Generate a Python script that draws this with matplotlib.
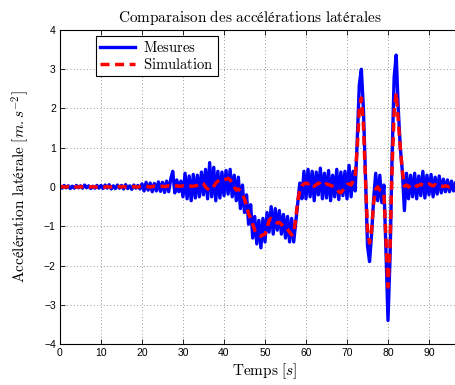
import matplotlib
matplotlib.use("Agg")
import matplotlib.pyplot as plt
import numpy as np

plt.rcParams.update(
    {
        "mathtext.fontset": "cm",
        "font.family": "Liberation Sans",
        "xtick.labelsize": 7.5,
        "ytick.labelsize": 7.5,
    }
)

# time axis, one sample every 0.5 s
temps = np.arange(0, 97.5, 0.5)

mesures = [
    0.03, -0.03, 0.04, -0.02, 0.03, -0.04, 0.02, -0.03, 0.04, -0.02,
    0.03, -0.03, 0.05, -0.02, 0.03, -0.04, 0.02, -0.03, 0.04, -0.03,
    0.04, -0.04, 0.05, -0.03, 0.06, -0.05, 0.03, -0.04, 0.05, -0.03,
    0.04, -0.05, 0.06, -0.04, 0.03, -0.06, 0.05, -0.03, 0.04, -0.05,
    0.08, -0.10, 0.12, -0.08, 0.10, -0.12, 0.09, -0.10, 0.13, -0.11,
    0.12, -0.14, 0.15, -0.12, 0.20, 0.40, -0.15, 0.18, -0.12, 0.15,
    -0.25, 0.35, -0.30, 0.28, -0.35, 0.32, -0.28, 0.30, -0.25, 0.38,
    -0.20, 0.45, -0.30, 0.62, -0.25, 0.50, -0.35, 0.40, -0.28, 0.38,
    -0.22, 0.42, -0.18, 0.45, -0.25, 0.30, -0.35, 0.25, -0.55, 0.05,
    -0.65, -0.20, -0.95, -0.45, -1.30, -0.75, -1.45, -0.85, -1.55, -0.80,
    -1.40, -0.65, -1.15, -0.50, -1.20, -0.55, -1.10, -0.60, -1.20, -0.70,
    -1.30, -0.75, -1.40, -0.80, -1.40, -0.90, -0.40, 0.10, -0.30, 0.40,
    -0.30, 0.45, -0.25, 0.40, -0.35, 0.38, -0.20, 0.48, -0.30, 0.35,
    -0.28, 0.42, -0.35, 0.30, -0.25, 0.45, -0.32, 0.38, -0.22, 0.40,
    -0.30, 0.55, -0.25, 0.40, -0.10, 1.20, 2.60, 3.00, 2.00, 0.30,
    -1.50, -1.90, -1.20, -0.30, 0.35, -0.35, 0.30, -0.40, 0.05, -1.60,
    -3.40, -1.80, 0.80, 2.80, 3.36, 2.00, 1.00, 0.40, -0.60, 0.35,
    -0.30, 0.30, -0.25, 0.35, -0.30, 0.28, -0.22, 0.40, -0.28, 0.30,
    -0.20, 0.32, -0.25, 0.25, -0.18, 0.28, -0.15, 0.20, -0.12, 0.18,
    -0.12, 0.15, -0.10, 0.12, -0.08,
]

# simulated lateral acceleration (m/s^2)
simulation = [
    0.00, 0.01, 0.00, 0.00, 0.01, 0.00, 0.00, 0.01, 0.00, 0.00,
    0.01, 0.00, 0.00, 0.01, 0.00, 0.00, 0.01, 0.00, 0.00, 0.01,
    0.01, 0.00, 0.00, 0.01, 0.00, 0.00, 0.01, 0.00, 0.00, 0.01,
    0.00, 0.01, 0.00, 0.00, 0.01, 0.00, 0.01, 0.00, 0.00, 0.01,
    0.01, 0.00, 0.02, 0.01, 0.00, 0.01, 0.02, 0.00, 0.01, 0.02,
    0.02, 0.01, 0.02, 0.03, 0.02, 0.01, 0.02, 0.03, 0.02, 0.02,
    0.03, 0.02, 0.02, 0.03, 0.02, 0.02, 0.03, 0.04, 0.05, 0.10,
    0.08, 0.00, -0.05, -0.08, -0.05, 0.02, 0.10, 0.15, 0.18, 0.20,
    0.18, 0.20, 0.22, 0.18, 0.10, 0.00, -0.08, -0.05, -0.10, -0.20,
    -0.30, -0.50, -0.68, -0.80, -0.95, -1.10, -1.18, -1.22, -1.25, -1.22,
    -1.20, -1.05, -0.85, -0.80, -0.85, -0.88, -0.92, -0.90, -0.95, -1.00,
    -1.02, -1.08, -1.15, -1.22, -1.20, -0.80, -0.35, -0.08, 0.03, 0.08,
    0.10, 0.08, 0.12, 0.05, 0.02, 0.06, 0.10, 0.08, 0.03, 0.05,
    0.08, 0.06, 0.04, 0.02, 0.00, -0.05, -0.12, -0.15, -0.08, 0.00,
    0.06, 0.08, 0.05, 0.15, 0.30, 1.00, 2.00, 2.27, 1.60, 0.20,
    -1.10, -1.43, -1.10, -0.40, -0.05, 0.00, -0.08, -0.10, -0.20, -1.30,
    -2.55, -1.50, 0.50, 1.90, 2.40, 1.70, 1.00, 0.40, 0.02, 0.05,
    0.00, 0.05, 0.03, 0.06, 0.02, 0.04, 0.07, 0.05, 0.03, 0.06,
    0.08, 0.05, 0.03, 0.06, 0.02, 0.04, 0.03, 0.01, 0.03, 0.02,
    0.00, 0.02, 0.01, 0.02, 0.00,
]

x_ticks = [0, 10, 20, 30, 40, 50, 60, 70, 80, 90]
y_ticks = [-4, -3, -2, -1, 0, 1, 2, 3, 4]

fig = plt.figure(figsize=(4.56, 3.85), dpi=100)
# axes run past the right edge, as in the cropped original
ax = fig.add_axes([60 / 456, 41 / 385, 410 / 456, 314 / 385])

ax.plot(temps, mesures, color="#0000ff", linewidth=2.4, label=r"$\mathrm{Mesures}$")
ax.plot(
    temps,
    simulation,
    color="#ff0000",
    linewidth=2.5,
    linestyle=(0, (2.6, 1.6)),
    label=r"$\mathrm{Simulation}$",
)

ax.set_xlim(0, 100)
ax.set_ylim(-4, 4)
ax.set_xticks(x_ticks)
ax.set_yticks(y_ticks)
ax.set_yticklabels(["\u22124", "\u22123", "\u22122", "\u22121", "0", "1", "2", "3", "4"])
ax.tick_params(direction="in", top=True, right=True, length=3.5, width=0.6, pad=3)
ax.grid(True, linestyle=(0, (1, 3)), color="0.45", linewidth=0.6)
for spine in ax.spines.values():
    spine.set_linewidth(0.8)

ax.set_title(
    r"$\mathrm{Comparaison\ des\ accélérations\ latérales}$",
    fontsize=11,
    pad=6,
    x=0.463,
)
ax.set_xlabel(r"$\mathrm{Temps}\ [s]$", fontsize=11, labelpad=2)
ax.set_ylabel(
    r"$\mathrm{Accélération\ latérale}\ [m\mathrm{.}s^{-2}]$", fontsize=11, labelpad=9
)

leg = ax.legend(
    loc="upper left",
    bbox_to_anchor=(0.088, 0.981),
    borderaxespad=0,
    fancybox=False,
    framealpha=1,
    edgecolor="black",
    fontsize=10.5,
    handlelength=2.4,
    labelspacing=0.1,
    borderpad=0.3,
    handletextpad=0.5,
)
leg.get_frame().set_linewidth(0.8)

fig.savefig("out.png", dpi=100)
